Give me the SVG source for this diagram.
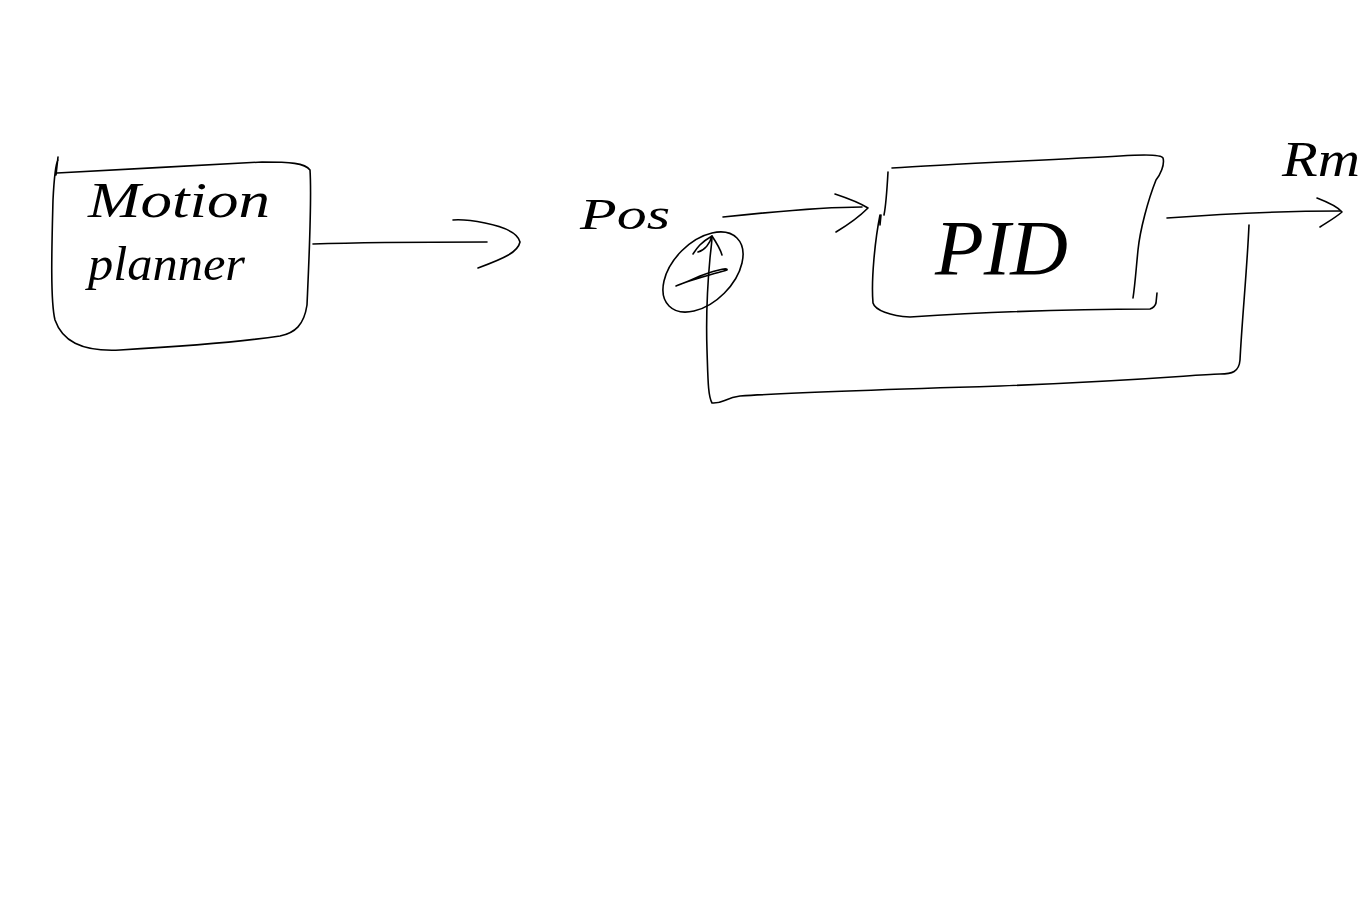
<svg xmlns="http://www.w3.org/2000/svg" width="1368" height="912" viewBox="0 0 1368 912">
<style>
.s{fill:none;stroke:#000;stroke-width:1.6;stroke-linecap:round;stroke-linejoin:round}
.t{font-family:"Liberation Serif",serif;font-style:italic;fill:#000}
</style>
<rect width="1368" height="912" fill="#fff"/>
<g id="motion-planner">
<path class="s" d="M58,157 L56,175 M57,173 C120,170 200,165 262,162 C290,162 305,163 310,170 C312,200 309,260 307,305 C304,325 295,333 280,336 C240,342 190,346 120,350 C80,352 62,340 55,320 C50,300 52,240 53,200 C54,180 55,165 58,160"/>
<text class="t" x="88" y="217" font-size="50" textLength="182" lengthAdjust="spacingAndGlyphs">Motion</text>
<text class="t" x="88" y="280" font-size="48" textLength="157" lengthAdjust="spacingAndGlyphs">planner</text>
</g>
<g id="sum-junction">
<ellipse class="s" cx="703" cy="272" rx="48" ry="30" transform="rotate(-45 703 272)"/>
<path class="s" d="M676,286 C690,280 710,275 727,270 C728,268 722,268 700,276 C690,281 680,284 676,286"/>
</g>
<g id="pid">
<path class="s" d="M892,168 C950,164 1050,160 1120,156 C1150,154 1162,155 1163,158 C1165,165 1160,175 1156,180 C1148,200 1140,230 1138,250 C1136,270 1135,285 1133,298 M1157,293 L1156,303 C1155,307 1153,308 1150,309 C1080,309 990,312 910,317 C890,316 875,310 873,303 C871,280 875,240 880,215 M880,225 L881,215 M888,172 C887,190 886,205 884,215"/>
<text class="t" x="935" y="274" font-size="78" textLength="133" lengthAdjust="spacingAndGlyphs">PID</text>
</g>
<g id="labels">
<text class="t" x="580" y="229" font-size="44" textLength="90" lengthAdjust="spacingAndGlyphs">Pos</text>
<text class="t" x="1282" y="176" font-size="50" textLength="78" lengthAdjust="spacingAndGlyphs">Rm</text>
</g>
<g id="connectors">
<path class="s" d="M313,244 C370,242 430,242 487,242"/>
<path class="s" d="M453,220 C465,219 475,221 485,223 C505,227 518,233 520,242 C518,252 505,258 478,268"/>
<path class="s" d="M723,217 C770,212 820,207 862,207"/>
<path class="s" d="M835,194 C850,199 860,203 868,208 C858,218 846,226 836,232"/>
<path class="s" d="M1167,218 C1220,214 1290,211 1340,211"/>
<path class="s" d="M1317,198 C1330,203 1338,207 1342,212 C1335,218 1326,223 1320,227"/>
<path class="s" d="M1249,225 C1247,270 1242,320 1240,360 C1239,372 1232,374 1220,374 C1190,375 1150,380 1000,386 C900,389 800,392 740,396 C725,398 722,404 712,403 C708,396 708,380 707,350 C706,320 707,290 710,258 C711,248 712,242 712,236"/>
<path class="s" d="M693,254 C697,248 700,243 712,236 C716,242 720,248 722,255 M712,236 C710,243 705,250 698,252"/>
</g>
</svg>
